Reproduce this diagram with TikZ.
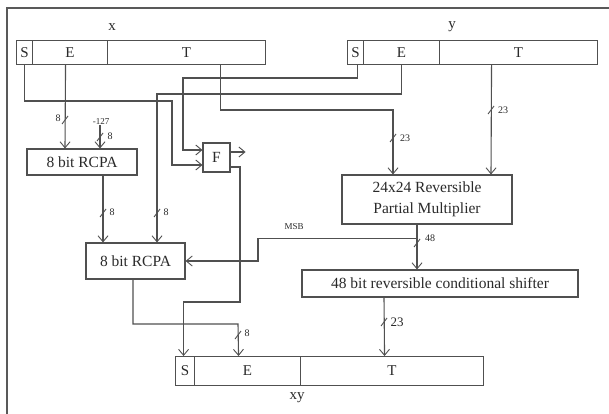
\documentclass[tikz,border=0pt]{standalone}
\usepackage{fontspec}
\setmainfont{Liberation Serif}
\usetikzlibrary{arrows.meta,calc}
\definecolor{wire}{HTML}{505050}
\definecolor{ink}{HTML}{2A2A2A}
\begin{document}
\begin{tikzpicture}[x=1pt,y=-1pt,
  wire/.style={draw=wire,line width=1.1pt},
  arr/.style={wire,-{Straight Barb[length=6pt,width=10pt,line width=0.9pt]}},
  box/.style={draw=wire,line width=1.1pt,inner sep=0pt,text=ink,font=\fontsize{15.5}{20.5}\selectfont},
  cell/.style={box,anchor=north west,font=\fontsize{15}{16}\selectfont},
  small/.style={inner sep=0pt,text=ink,font=\fontsize{10}{11}\selectfont},
  lbl/.style={inner sep=0pt,text=ink,font=\fontsize{15}{16}\selectfont},
  bus/.style={draw=wire,line width=0.9pt}
]
\useasboundingbox[fill=white] (0,0) rectangle (609,414);
% outer frame
\draw[line width=2.4pt,draw=black!65] (7,414) -- (7,8) -- (609,8);

% register x
\node[lbl] (xlab) at (112,27) {x};
\node[cell,minimum width=16pt,minimum height=24pt] (xS) at (16,40) {S};
\node[cell,minimum width=75pt,minimum height=24pt] (xE) at (32,40) {E};
\node[cell,minimum width=158pt,minimum height=24pt] (xT) at (107,40) {T};
% register y
\node[lbl] (ylab) at (452,27) {y};
\node[cell,minimum width=16pt,minimum height=24pt] (yS) at (347,40) {S};
\node[cell,minimum width=76pt,minimum height=24pt] (yE) at (363,40) {E};
\node[cell,minimum width=158pt,minimum height=24pt] (yT) at (439,40) {T};
% register xy
\node[cell,minimum width=19pt,minimum height=29pt] (zS) at (175,356) {S};
\node[cell,minimum width=106pt,minimum height=29pt] (zE) at (194,356) {E};
\node[cell,minimum width=183pt,minimum height=29pt] (zT) at (300,356) {T};
\node[lbl] (zlab) at (297,398) {xy};

% blocks
\node[box,minimum width=110pt,minimum height=26pt] (R1) at (82,162) {8 bit RCPA};
\node[box,minimum width=99pt,minimum height=36pt] (R2) at (135.5,261) {8 bit RCPA};
\node[box,minimum width=27pt,minimum height=29pt] (F) at (216.5,157.5) {F};
\node[box,minimum width=170pt,minimum height=49pt,align=center] (M) at (427,199.5) {24x24 Reversible\\Partial Multiplier};
\node[box,minimum width=276pt,minimum height=27pt] (Sh) at (440,283.5) {48 bit reversible conditional shifter};

% wires
\draw[arr] (xS.south) |- (172,101) |- ([yshift=-7.5pt]F.west);
\draw[arr] ([xshift=2pt]yS.south) |- (183,78) |- ([yshift=7.5pt]F.west);
\draw[arr] ([xshift=-4.5pt]xE.south) -- ([xshift=-17pt]R1.north);
\node[small,font=\fontsize{9}{10}\selectfont] (m127) at (101,122) {-127};
\draw[arr] ([xshift=-1pt]m127.south) -- ([xshift=18pt]R1.north);
\draw[arr] ([xshift=34pt]xT.south) |- (393,110) -- ([xshift=-34pt]M.north);
\draw[arr] ([xshift=-27pt]yT.south) -- ([xshift=64pt]M.north);
\draw[arr] (yE.south) |- (157,94) -- ([xshift=21.5pt]R2.north);
\draw[arr] ([xshift=21pt]R1.south) -- ([xshift=-32.5pt]R2.north);
\coordinate (fout) at ([yshift=5.5pt,xshift=15pt]F.east);
\draw[arr] ([yshift=5.5pt]F.east) -- (fout);
\draw[arr] ([yshift=-9.5pt]F.east) -| (240,302) -| ([xshift=-1.5pt]zS.north);
\draw[arr] ([xshift=-2.5pt]R2.south) |- (238,324) -- ([xshift=-9pt]zE.north);
\draw[arr] ([xshift=-10pt]M.south) -- ([xshift=-23pt]Sh.north);
\coordinate (tap) at ([xshift=-10pt,yshift=-14pt]M.south);
\draw[arr] (tap) -| (258,250) |- (R2.east);
\node[small,font=\fontsize{9}{10}\selectfont] (msb) at (294,227) {MSB};
\draw[arr] ([xshift=-56pt]Sh.south) -- ([xshift=-7.5pt]zT.north);

% bus width marks
\draw[bus] (62,124) -- (68,116);
\node[small] (b1) at (58,118) {8};
\draw[bus] (97,141) -- (103,133);
\node[small] (b2) at (110,136) {8};
\draw[bus] (100,217) -- (106,209);
\node[small] (b3) at (112,212) {8};
\draw[bus] (154,217) -- (160,209);
\node[small] (b4) at (166,212) {8};
\draw[bus] (390,142) -- (396,134);
\node[small] (b5) at (405,138) {23};
\draw[bus] (488,114) -- (494,106);
\node[small] (b6) at (503,110) {23};
\draw[bus] (414,247) -- (420,239);
\node[small] (b7) at (430,238) {48};
\draw[bus] (235,339) -- (241,331);
\node[small] (b8) at (247,333) {8};
\draw[bus] (381,326) -- (387,318);
\node[small,font=\fontsize{13}{14}\selectfont] (b9) at (397,322) {23};
\end{tikzpicture}
\end{document}
